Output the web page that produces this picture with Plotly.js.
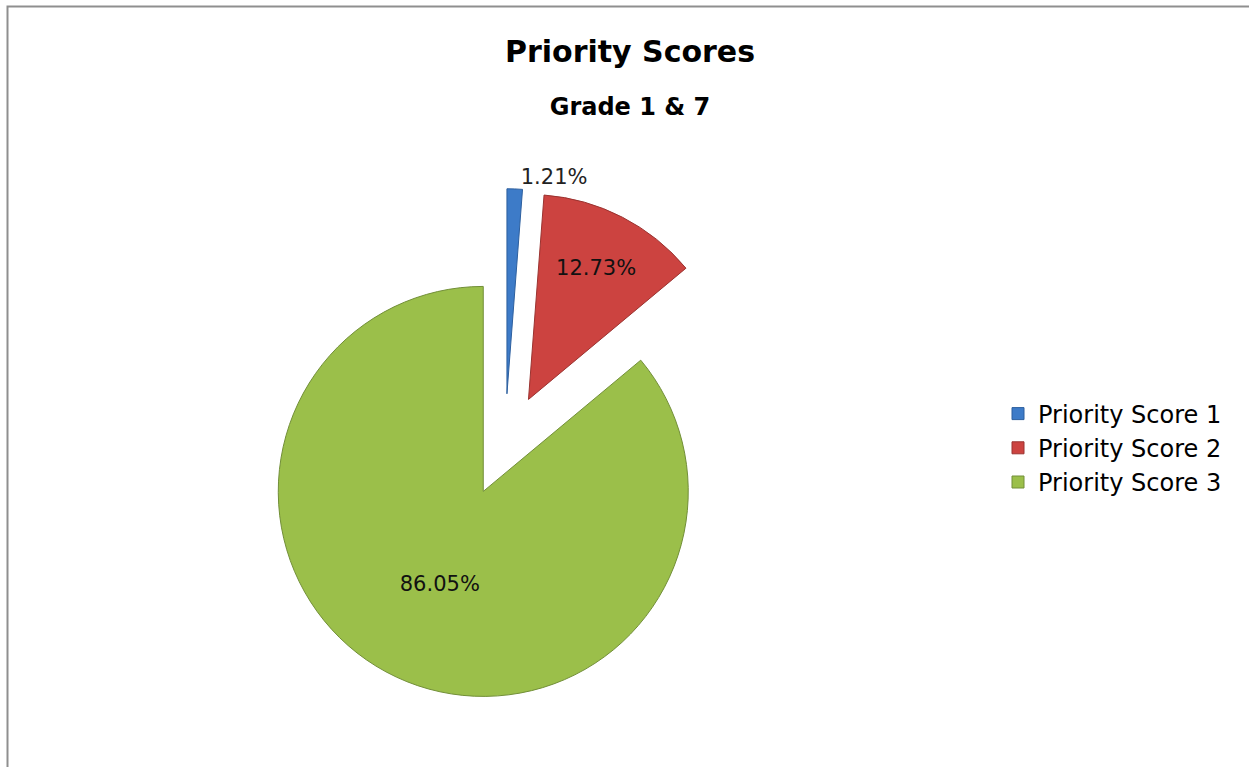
<!DOCTYPE html>
<html>
<head>
<meta charset="utf-8">
<script src="https://cdn.plot.ly/plotly-3.0.1.min.js"></script>
<style>
  html, body { margin: 0; padding: 0; background: #ffffff; }
  #chart { width: 1249px; height: 767px; }
</style>
</head>
<body>
<div id="chart"></div>
<script>
// ---- data ----
const categories = ['Priority Score 1', 'Priority Score 2', 'Priority Score 3'];
const percentValues = [1.21, 12.73, 86.05];
const sliceColors = ['#3d7bc8', '#cc4340', '#9bbf4a'];
const sliceEdgeColors = ['#2d5f9e', '#9a3330', '#728f38'];
const chartTitle = 'Priority Scores';
const chartSubtitle = 'Grade 1 &amp; 7';

const W = 1249, H = 767;

const trace = {
  type: 'pie',
  labels: categories,
  values: percentValues,
  sort: false,
  direction: 'clockwise',
  rotation: 0,
  pull: [0.25, 0.25, 0.25],
  marker: { colors: sliceColors, line: { color: sliceEdgeColors, width: 1 } },
  texttemplate: '%{value:.2f}%',
  textposition: ['outside', 'inside', 'inside'],
  insidetextorientation: 'horizontal',
  textfont: { family: 'DejaVu Sans', size: 21, color: '#111111' },
  outsidetextfont: { family: 'DejaVu Sans', size: 21, color: '#222222' },
  hoverinfo: 'label+percent',
  domain: { x: [248.75 / W, 761.25 / W], y: [1 - 701.25 / H, 1 - 188.75 / H] },
  automargin: false
};

const layout = {
  width: W,
  height: H,
  margin: { l: 0, r: 0, t: 0, b: 0 },
  paper_bgcolor: '#ffffff',
  showlegend: true,
  title: {
    text: chartTitle,
    font: { family: 'DejaVu Sans', size: 30, weight: 'bold', color: '#000000' },
    x: 630 / W,
    xanchor: 'center',
    xref: 'paper',
    y: 1 - 51 / H,
    yanchor: 'middle',
    yref: 'container',
    subtitle: {
      text: chartSubtitle,
      font: { family: 'DejaVu Sans', size: 24, weight: 'bold', color: '#000000' }
    }
  },
  legend: {
    x: 998 / W,
    xanchor: 'left',
    y: 1 - 448 / H,
    yanchor: 'middle',
    font: { family: 'DejaVu Sans', size: 24, color: '#000000' },
    bgcolor: 'rgba(0,0,0,0)'
  },
  shapes: [{
    type: 'rect', xref: 'paper', yref: 'paper',
    x0: 7.5 / W, x1: 1.02, y0: -0.02, y1: 1 - 6.5 / H,
    line: { color: '#8f8f8f', width: 2 },
    fillcolor: 'rgba(0,0,0,0)', layer: 'below'
  }]
};

Plotly.newPlot('chart', [trace], layout, { displayModeBar: false, staticPlot: true });
</script>
</body>
</html>
